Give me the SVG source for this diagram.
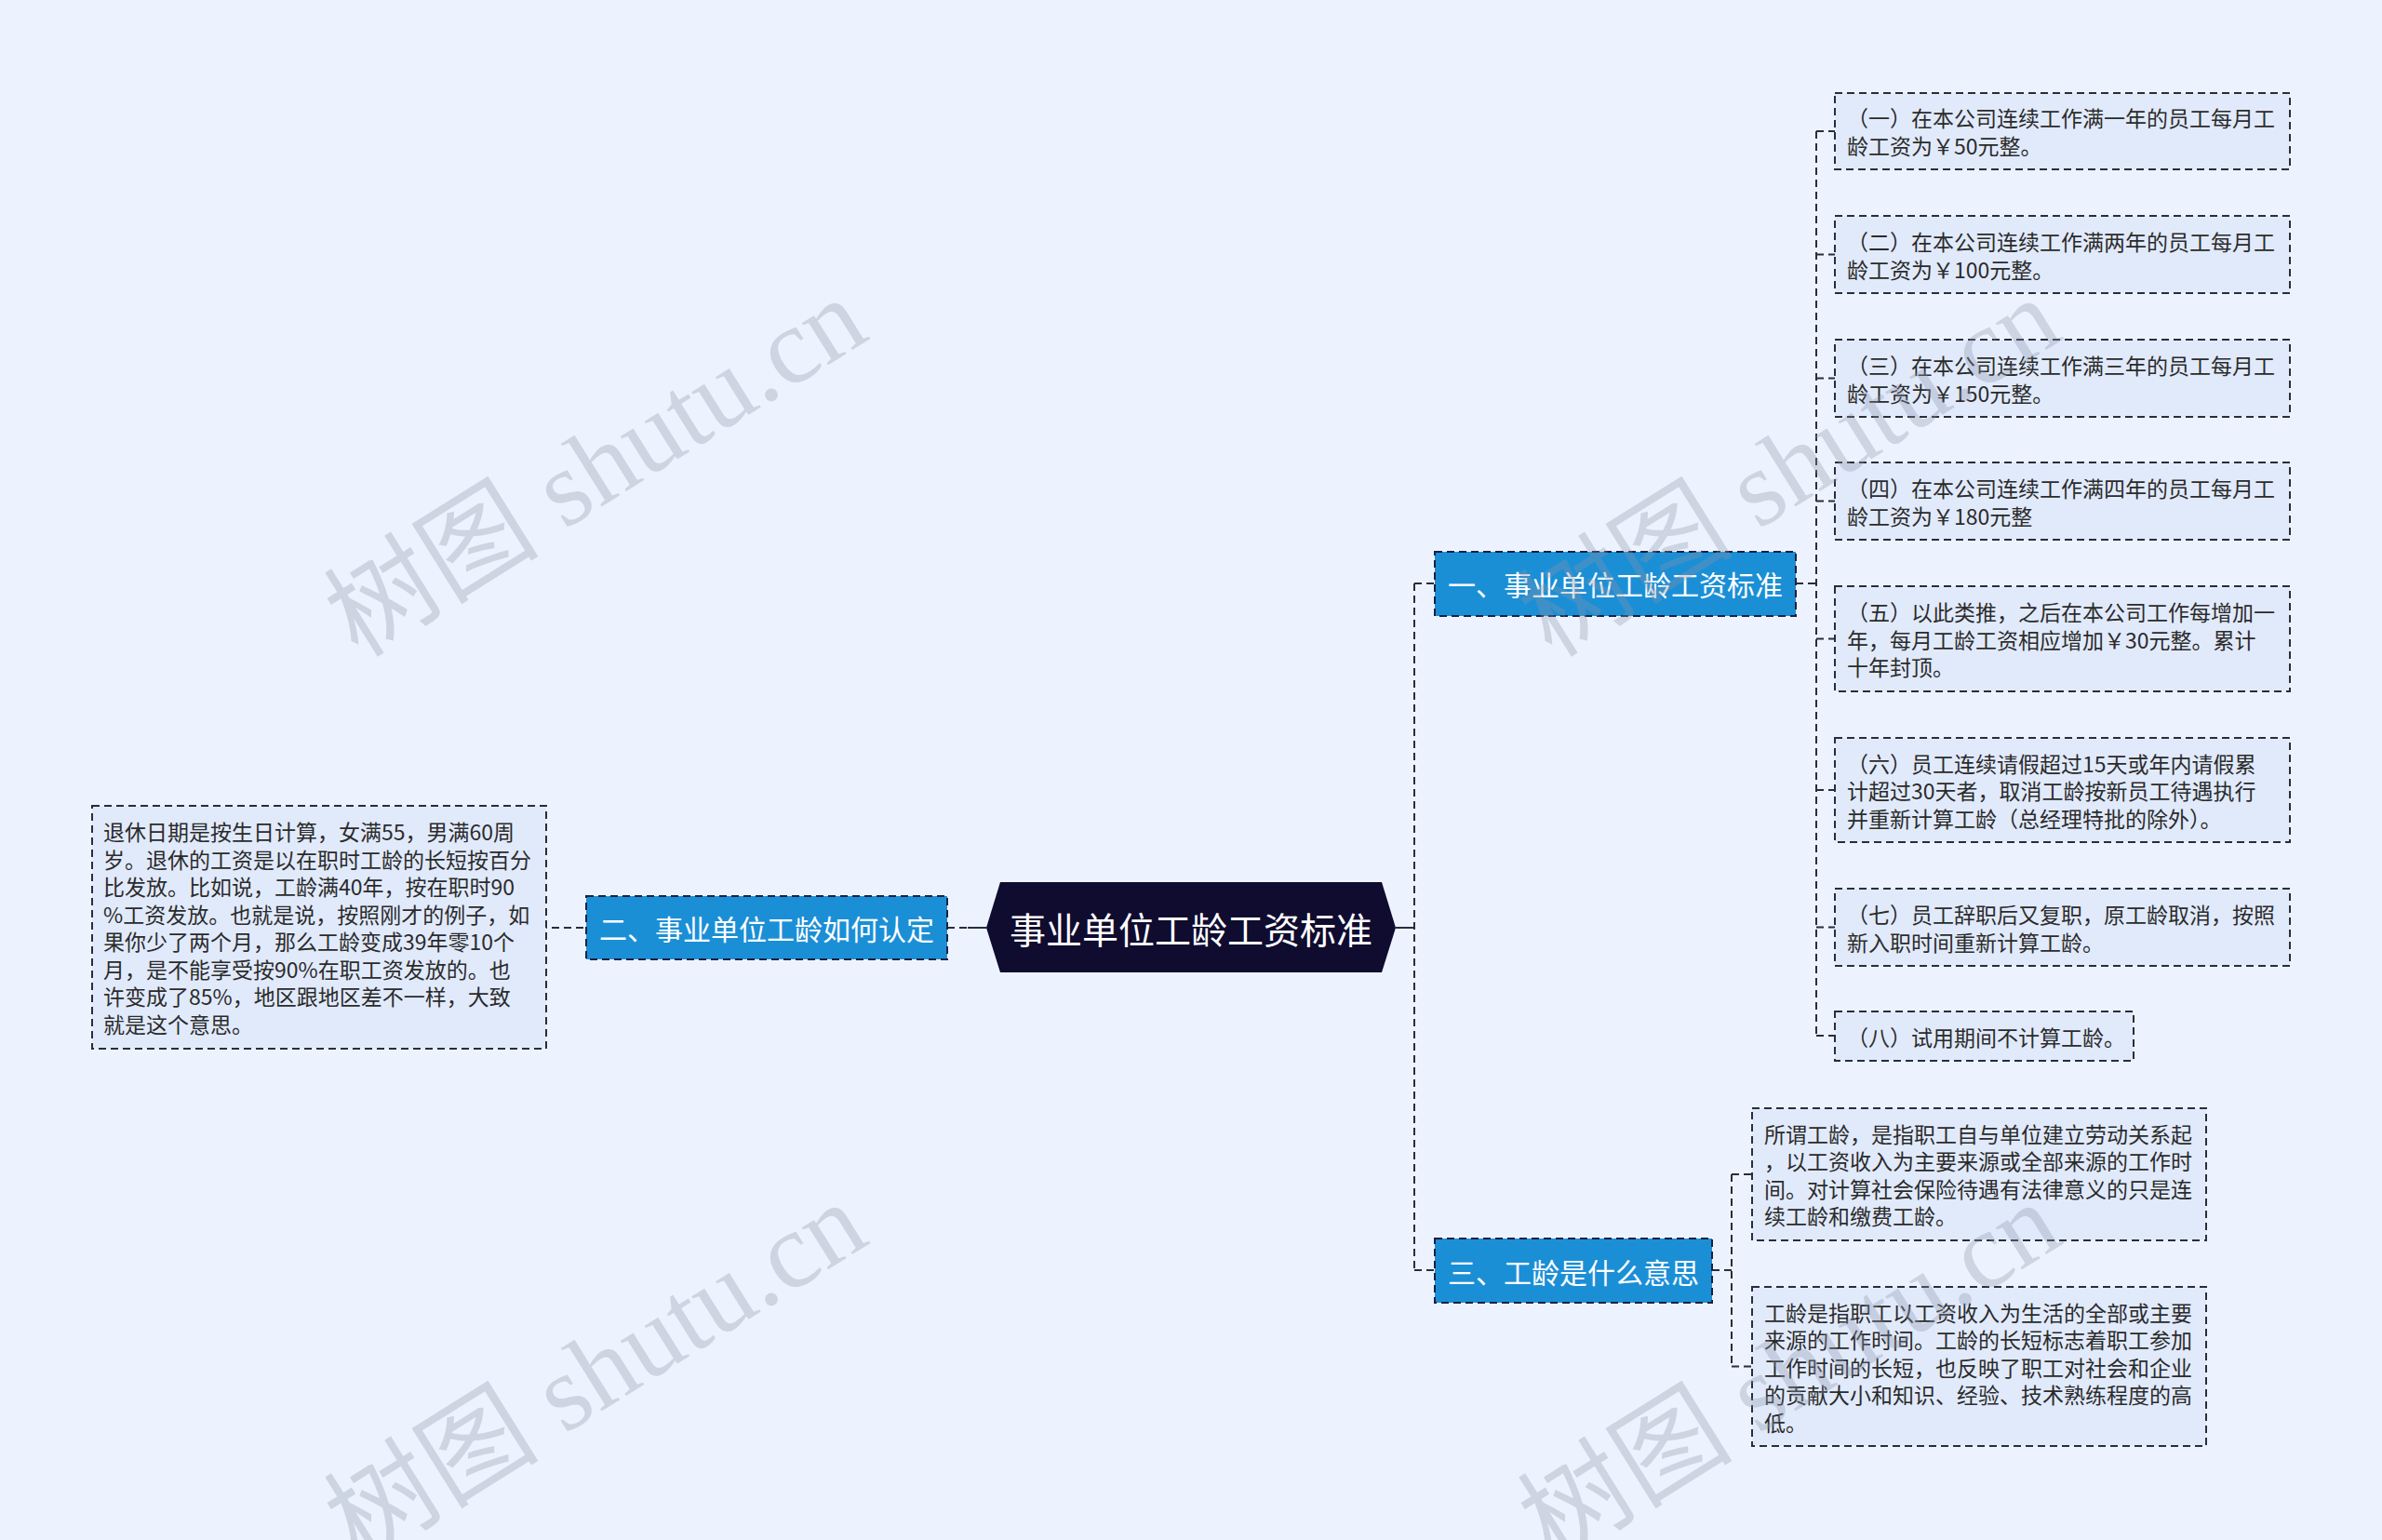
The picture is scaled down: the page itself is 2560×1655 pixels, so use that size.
<svg xmlns="http://www.w3.org/2000/svg" width="2560" height="1655" viewBox="0 0 2560 1655">
<style>
.bg{fill:#edf3fe}
.conn{fill:none;stroke:#2a2d3a;stroke-width:2;stroke-dasharray:8 5}
.solid{fill:none;stroke:#2a2d3a;stroke-width:2}
.root{fill:#0f0c2f}
.rtxt{font-family:"Noto Sans CJK SC","Noto Sans",sans-serif;font-size:39px;fill:#ffffff;text-anchor:middle;dominant-baseline:central}
.sub{fill:#1b8fd6;stroke:#1b2140;stroke-width:2;stroke-dasharray:8 5}
.stxt{font-family:"Noto Sans CJK SC","Noto Sans",sans-serif;font-size:30px;fill:#ffffff;text-anchor:middle;dominant-baseline:central}
.leaf{fill:#e1eafb;stroke:#2a2d3a;stroke-width:2;stroke-dasharray:8 5}
.ltxt{font-family:"Noto Sans CJK SC","Noto Sans",sans-serif;font-size:23px;fill:#2b2b2b;dominant-baseline:central}
.wm{font-family:"Liberation Serif","Noto Sans CJK SC",serif;font-size:116px;fill:#8a93a8;fill-opacity:0.32}
</style>
<rect class="bg" x="0" y="0" width="2560" height="1655"/>

<g id="connectors">
  <path class="conn" d="M554 997 H630"/>
  <path class="conn" d="M1018 997 H1040"/>
  <path class="solid" d="M1040 997 H1060"/>
  <path class="solid" d="M1500 997 H1520"/>
  <path class="conn" d="M1520 627 V1365"/>
  <path class="conn" d="M1520 627 H1542"/>
  <path class="conn" d="M1520 1365 H1542"/>
  <path class="conn" d="M1930 627 H1952"/>
  <path class="conn" d="M1952 141 V1113"/>
  <path class="conn" d="M1952 141 H1972"/>
  <path class="conn" d="M1952 273.5 H1972"/>
  <path class="conn" d="M1952 406.5 H1972"/>
  <path class="conn" d="M1952 538.5 H1972"/>
  <path class="conn" d="M1952 686.5 H1972"/>
  <path class="conn" d="M1952 849 H1972"/>
  <path class="conn" d="M1952 996.5 H1972"/>
  <path class="conn" d="M1952 1113 H1972"/>
  <path class="conn" d="M1840 1365 H1861"/>
  <path class="conn" d="M1861 1262 V1468.5"/>
  <path class="conn" d="M1861 1262 H1883"/>
  <path class="conn" d="M1861 1468.5 H1883"/>
</g>

<g id="root">
  <polygon class="root" points="1060,997 1075,948 1485,948 1500,997 1485,1045 1075,1045"/>
  <text class="rtxt" x="1280" y="997">事业单位工龄工资标准</text>
</g>

<g id="node-2">
  <rect class="sub" x="630" y="963" width="388" height="68"/>
  <text class="stxt" x="824" y="997">二、事业单位工龄如何认定</text>
</g>

<g id="leaf-left">
  <rect class="leaf" x="99" y="866" width="488" height="261"/>
  <text class="ltxt" x="111" y="893.3">退休日期是按生日计算，女满55，男满60周</text>
  <text class="ltxt" x="111" y="922.8">岁。退休的工资是以在职时工龄的长短按百分</text>
  <text class="ltxt" x="111" y="952.3">比发放。比如说，工龄满40年，按在职时90</text>
  <text class="ltxt" x="111" y="981.8">%工资发放。也就是说，按照刚才的例子，如</text>
  <text class="ltxt" x="111" y="1011.3">果你少了两个月，那么工龄变成39年零10个</text>
  <text class="ltxt" x="111" y="1040.8">月，是不能享受按90%在职工资发放的。也</text>
  <text class="ltxt" x="111" y="1070.3">许变成了85%，地区跟地区差不一样，大致</text>
  <text class="ltxt" x="111" y="1099.8">就是这个意思。</text>
</g>

<g id="node-1">
  <rect class="sub" x="1542" y="593" width="388" height="69"/>
  <text class="stxt" x="1736" y="627">一、事业单位工龄工资标准</text>
</g>

<g id="leaf-1">
  <rect class="leaf" x="1972" y="100" width="489" height="82"/>
  <text class="ltxt" x="1985" y="126">（一）在本公司连续工作满一年的员工每月工</text>
  <text class="ltxt" x="1985" y="156">龄工资为￥50元整。</text>
</g>
<g id="leaf-2">
  <rect class="leaf" x="1972" y="232" width="489" height="83"/>
  <text class="ltxt" x="1985" y="258.5">（二）在本公司连续工作满两年的员工每月工</text>
  <text class="ltxt" x="1985" y="288.5">龄工资为￥100元整。</text>
</g>
<g id="leaf-3">
  <rect class="leaf" x="1972" y="365" width="489" height="83"/>
  <text class="ltxt" x="1985" y="391.5">（三）在本公司连续工作满三年的员工每月工</text>
  <text class="ltxt" x="1985" y="421.5">龄工资为￥150元整。</text>
</g>
<g id="leaf-4">
  <rect class="leaf" x="1972" y="497" width="489" height="83"/>
  <text class="ltxt" x="1985" y="523.5">（四）在本公司连续工作满四年的员工每月工</text>
  <text class="ltxt" x="1985" y="553.5">龄工资为￥180元整</text>
</g>
<g id="leaf-5">
  <rect class="leaf" x="1972" y="630" width="489" height="113"/>
  <text class="ltxt" x="1985" y="657">（五）以此类推，之后在本公司工作每增加一</text>
  <text class="ltxt" x="1985" y="686.5">年，每月工龄工资相应增加￥30元整。累计</text>
  <text class="ltxt" x="1985" y="716">十年封顶。</text>
</g>
<g id="leaf-6">
  <rect class="leaf" x="1972" y="793" width="489" height="112"/>
  <text class="ltxt" x="1985" y="819.5">（六）员工连续请假超过15天或年内请假累</text>
  <text class="ltxt" x="1985" y="849">计超过30天者，取消工龄按新员工待遇执行</text>
  <text class="ltxt" x="1985" y="878.5">并重新计算工龄（总经理特批的除外）。</text>
</g>
<g id="leaf-7">
  <rect class="leaf" x="1972" y="955" width="489" height="83"/>
  <text class="ltxt" x="1985" y="981.5">（七）员工辞职后又复职，原工龄取消，按照</text>
  <text class="ltxt" x="1985" y="1011.5">新入职时间重新计算工龄。</text>
</g>
<g id="leaf-8">
  <rect class="leaf" x="1972" y="1087" width="321" height="53"/>
  <text class="ltxt" x="1985" y="1113.5">（八）试用期间不计算工龄。</text>
</g>

<g id="node-3">
  <rect class="sub" x="1542" y="1331" width="298" height="69"/>
  <text class="stxt" x="1691" y="1365.5">三、工龄是什么意思</text>
</g>

<g id="leaf-a">
  <rect class="leaf" x="1883" y="1191" width="488" height="142"/>
  <text class="ltxt" x="1896" y="1217.5">所谓工龄，是指职工自与单位建立劳动关系起</text>
  <text class="ltxt" x="1896" y="1247">，以工资收入为主要来源或全部来源的工作时</text>
  <text class="ltxt" x="1896" y="1276.5">间。对计算社会保险待遇有法律意义的只是连</text>
  <text class="ltxt" x="1896" y="1306">续工龄和缴费工龄。</text>
</g>
<g id="leaf-b">
  <rect class="leaf" x="1883" y="1383" width="488" height="171"/>
  <text class="ltxt" x="1896" y="1409.5">工龄是指职工以工资收入为生活的全部或主要</text>
  <text class="ltxt" x="1896" y="1439">来源的工作时间。工龄的长短标志着职工参加</text>
  <text class="ltxt" x="1896" y="1468.5">工作时间的长短，也反映了职工对社会和企业</text>
  <text class="ltxt" x="1896" y="1498">的贡献大小和知识、经验、技术熟练程度的高</text>
  <text class="ltxt" x="1896" y="1527.5">低。</text>
</g>

<g id="watermarks">
  <text class="wm" transform="translate(385,708) rotate(-32)">树图 shutu.cn</text>
  <text class="wm" transform="translate(385,1680) rotate(-32)">树图 shutu.cn</text>
  <text class="wm" transform="translate(1668,708) rotate(-32)">树图 shutu.cn</text>
  <text class="wm" transform="translate(1668,1680) rotate(-32)">树图 shutu.cn</text>
</g>
</svg>
